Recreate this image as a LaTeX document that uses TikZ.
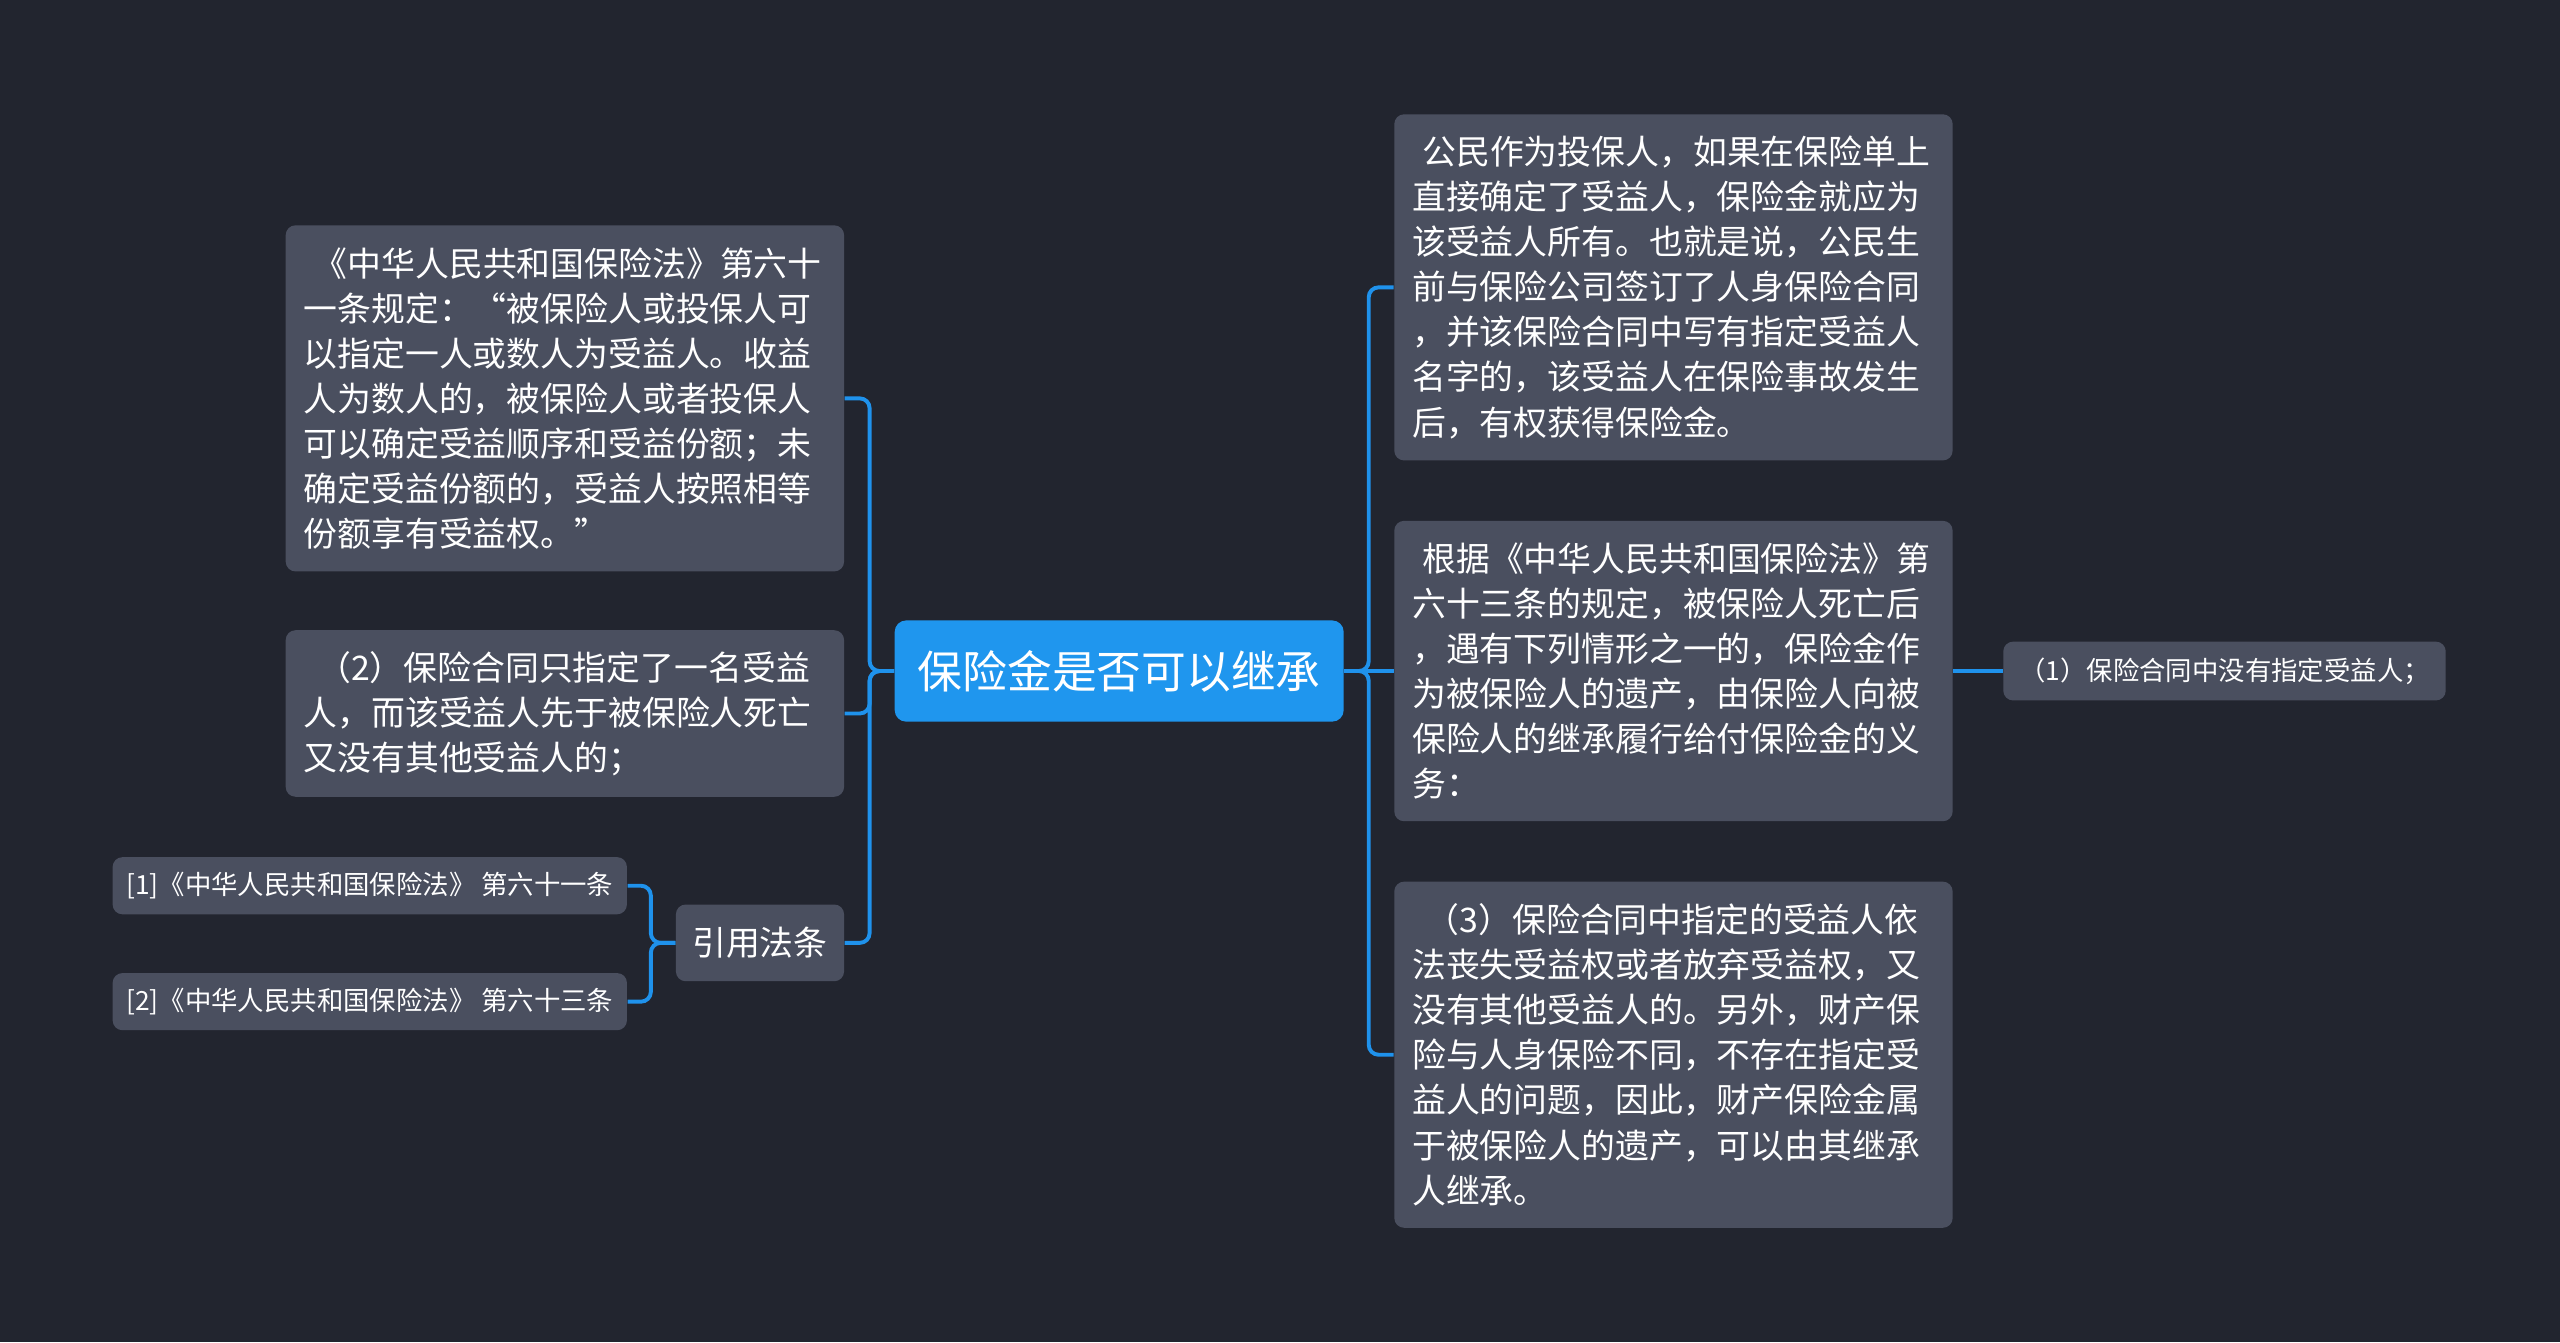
\documentclass[tikz,border=0pt]{standalone}
\usepackage{fontspec}
\setmainfont{Noto Sans CJK SC}
\usetikzlibrary{calc}

\definecolor{bgdark}{HTML}{22252F}
\definecolor{nodegray}{HTML}{4A4F5F}
\definecolor{topicblue}{HTML}{1F96EE}
\definecolor{linkblue}{HTML}{1F92EC}

\begin{document}
\begin{tikzpicture}[node distance=6.79cm]
    % Styles
    \tikzstyle{topic} = [rectangle, fill=topicblue, text=white, rounded corners=0.14cm, minimum width=5.5cm, minimum height=1.24cm, font=\fontsize{15.6}{18}\selectfont]
    \tikzstyle{box} = [rectangle, fill=nodegray, text=white, rounded corners=0.12cm]
    \tikzstyle{block} = [box, inner xsep=0.22cm, text width=6.4cm, align=left, font=\fontsize{11.8}{15.7}\selectfont]
    \tikzstyle{small} = [box, minimum height=0.7cm, font=\fontsize{9.2}{11}\selectfont]
    \tikzstyle{line} = [draw, linkblue, line width=0.048cm, rounded corners=0.12cm]

    % Background
    \fill [bgdark] (-13.71,-8.22) rectangle (17.65,8.22);
    \useasboundingbox (-13.71,-8.22) rectangle (17.65,8.22);

    % Nodes
    \node [topic] (topic) {保险金是否可以继承};

    \node [block, left of=topic, yshift=3.34cm, minimum height=4.24cm] (law61) {\hspace*{.3em}《中华人民共和国保险法》第六十\\
一条规定：“被保险人或投保人可\\
以指定一人或数人为受益人。收益\\
人为数人的，被保险人或者投保人\\
可以确定受益顺序和受益份额；未\\
确定受益份额的，受益人按照相等\\
份额享有受益权。”};
    \node [block, left of=topic, yshift=-0.52cm, minimum height=2.04cm] (case2) {\hspace*{.4em}（2）保险合同只指定了一名受益\\
人，而该受益人先于被保险人死亡\\
又没有其他受益人的；};
    \node [box, left of=topic, node distance=4.4cm, yshift=-3.33cm, minimum width=2.06cm, minimum height=0.94cm, font=\fontsize{11.8}{14}\selectfont] (cite) {引用法条};
    \node [small, left of=cite, node distance=4.78cm, yshift=0.7cm, minimum width=6.3cm] (cite1) {[1]《中华人民共和国保险法》 第六十一条};
    \node [small, left of=cite, node distance=4.78cm, yshift=-0.72cm, minimum width=6.3cm] (cite2) {[2]《中华人民共和国保险法》 第六十三条};

    \node [block, right of=topic, yshift=4.7cm, minimum height=4.24cm] (owner) {\hspace*{.3em}公民作为投保人，如果在保险单上\\
直接确定了受益人，保险金就应为\\
该受益人所有。也就是说，公民生\\
前与保险公司签订了人身保险合同\\
，并该保险合同中写有指定受益人\\
名字的，该受益人在保险事故发生\\
后，有权获得保险金。};
    \node [block, right of=topic, minimum height=3.68cm] (art63) {\hspace*{.3em}根据《中华人民共和国保险法》第\\
六十三条的规定，被保险人死亡后\\
，遇有下列情形之一的，保险金作\\
为被保险人的遗产，由保险人向被\\
保险人的继承履行给付保险金的义\\
务：};
    \node [block, right of=topic, yshift=-4.7cm, minimum height=4.24cm] (case3) {\hspace*{.4em}（3）保险合同中指定的受益人依\\
法丧失受益权或者放弃受益权，又\\
没有其他受益人的。另外，财产保\\
险与人身保险不同，不存在指定受\\
益人的问题，因此，财产保险金属\\
于被保险人的遗产，可以由其继承\\
人继承。};
    \node [small, right of=art63, node distance=6.75cm, minimum width=5.42cm, minimum height=0.72cm] (case1) {（1）保险合同中没有指定受益人；};

    % Connections
    \path [line] (topic.west) -- ++(-0.3,0) |- (law61.east);
    \path [line] (topic.west) -- ++(-0.3,0) |- (case2.east);
    \path [line] (topic.west) -- ++(-0.3,0) |- (cite.east);
    \path [line] (cite.west) -- ++(-0.3,0) |- (cite1.east);
    \path [line] (cite.west) -- ++(-0.3,0) |- (cite2.east);
    \path [line] (topic.east) -- ++(0.3,0) |- (owner.west);
    \path [line] (topic.east) -- (art63.west);
    \path [line] (topic.east) -- ++(0.3,0) |- (case3.west);
    \path [line] (art63.east) -- (case1.west);

\end{tikzpicture}
\end{document}
